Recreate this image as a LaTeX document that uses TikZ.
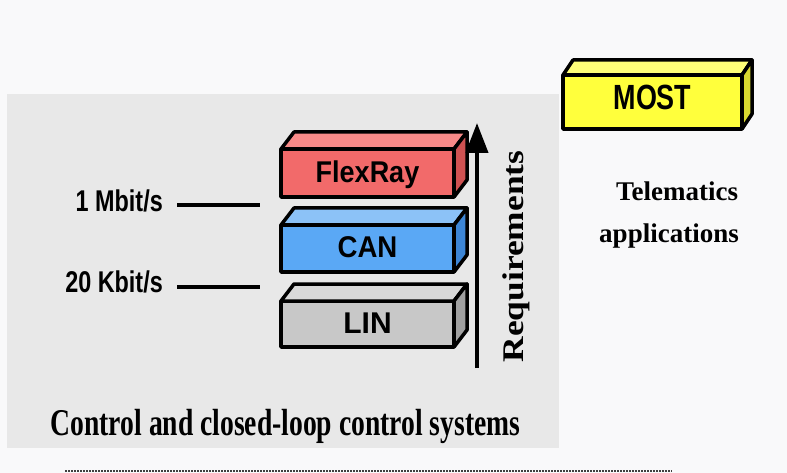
\documentclass[tikz,border=0pt]{standalone}
\usepackage{fontspec}
\usepackage{graphicx}
\setmainfont{Liberation Serif}
\newfontfamily\arialfont{Liberation Sans}
\usetikzlibrary{arrows.meta}

% colours of the bus slabs
\definecolor{pagebg}{HTML}{F9F9FA}
\definecolor{panelgrey}{HTML}{E8E8E8}
\definecolor{flexfront}{HTML}{F26A6A}
\definecolor{flextop}{HTML}{F88A88}
\definecolor{flexside}{HTML}{CF5252}
\definecolor{canfront}{HTML}{5AA8F5}
\definecolor{cantop}{HTML}{8CC2F7}
\definecolor{canside}{HTML}{3D86D6}
\definecolor{linfront}{HTML}{C8C8C8}
\definecolor{lintop}{HTML}{D9D9D9}
\definecolor{linside}{HTML}{A0A0A0}
\definecolor{mostfront}{HTML}{FFFF3C}
\definecolor{mosttop}{HTML}{FFFF78}
\definecolor{mostside}{HTML}{D8D830}

\tikzset{
  slabfront/.style={draw=black, line width=3.5pt, line join=round,
    inner sep=0pt, outer sep=0pt, text height=22pt, text depth=3pt,
    font=\arialfont\bfseries\fontsize{30}{36}\selectfont},
  slabedge/.style={draw=black, line width=3.5pt, line join=round},
  ratelabel/.style={anchor=base east, inner sep=0pt,
    font=\arialfont\bfseries\fontsize{30}{36}\selectfont},
  rateline/.style={line width=4pt},
  serifbold/.style={inner sep=0pt, font=\bfseries\fontsize{27}{32}\selectfont},
}

% top and side faces of a slab whose front face is node #1, depth (#2)
\newcommand\slabfaces[4]{%
  \draw[slabedge, fill=#3] (#1.north west) -- ++(#2)
    -- ([shift={(#2)}]#1.north east) -- (#1.north east) -- cycle;
  \draw[slabedge, fill=#4] (#1.north east) -- ([shift={(#2)}]#1.north east)
    -- ([shift={(#2)}]#1.south east) -- (#1.south east) -- cycle;
}

\begin{document}
\begin{tikzpicture}[x=1pt, y=-1pt]
\useasboundingbox (0,0) rectangle (787,473);
\fill[pagebg] (0,0) rectangle (787,473);

% grey panel for the control systems
\fill[panelgrey] (7,94) rectangle (559,448);

% bus slabs
\node[slabfront, fill=flexfront, minimum width=173pt, minimum height=48pt]
  (flexray) at (367.5,173) {\scalebox{0.9}[1]{FlexRay}};
\slabfaces{flexray}{13,-17}{flextop}{flexside}

\node[slabfront, fill=canfront, minimum width=173pt, minimum height=47pt]
  (can) at (367.5,248.5) {\scalebox{0.92}[1]{CAN}};
\slabfaces{can}{13,-17}{cantop}{canside}

\node[slabfront, fill=linfront, minimum width=173pt, minimum height=46pt]
  (lin) at (367.5,324) {\scalebox{1.0}[1]{LIN}};
\slabfaces{lin}{13,-17}{lintop}{linside}

\node[slabfront, fill=mostfront, minimum width=179pt, minimum height=54pt,
  text height=25pt, text depth=9pt,
  font=\arialfont\bfseries\fontsize{35}{40}\selectfont]
  (most) at (652.5,102) {\scalebox{0.77}[1]{MOST}};
\slabfaces{most}{10,-15}{mosttop}{mostside}

% data rate marks
\node[ratelabel] (mbit) at (163,211.7) {\scalebox{0.78}[1]{1 Mbit/s}};
\node[ratelabel] (kbit) at (163,292.7) {\scalebox{0.78}[1]{20 Kbit/s}};
\coordinate (mbitA) at (177,205);
\coordinate (mbitB) at (260,205);
\coordinate (kbitA) at (177,287);
\coordinate (kbitB) at (260,287);
\draw[rateline] (mbitA) -- (mbitB);
\draw[rateline] (kbitA) -- (kbitB);

% requirements arrow
\coordinate (reqlow) at (477,368);
\coordinate (reqhigh) at (477,123);
\draw[line width=4pt, -{Triangle[length=30pt, width=22pt]}] (reqlow) -- (reqhigh);
\node[inner sep=0pt, anchor=base, rotate=90,
  font=\bfseries\fontsize{30}{36}\selectfont]
  (req) at (523,256.5) {\scalebox{1.18}[1]{Requirements}};

% captions
\node[serifbold, anchor=base] (tele1) at (677,200.7) {Telematics};
\node[serifbold, anchor=base] (tele2) at (669,242.7) {applications};
\node[inner sep=0pt, anchor=base, font=\bfseries\fontsize{27.6}{32}\selectfont]
  (ctrl) at (285.5,435) {\scalebox{1}[1.37]{Control and closed-loop control systems}};

% dotted rule
\coordinate (ruleA) at (65,471);
\coordinate (ruleB) at (672,471);
\draw[line width=1.2pt, dash pattern=on 1.5pt off 1.5pt, black!75] (ruleA) -- (ruleB);
\end{tikzpicture}
\end{document}
